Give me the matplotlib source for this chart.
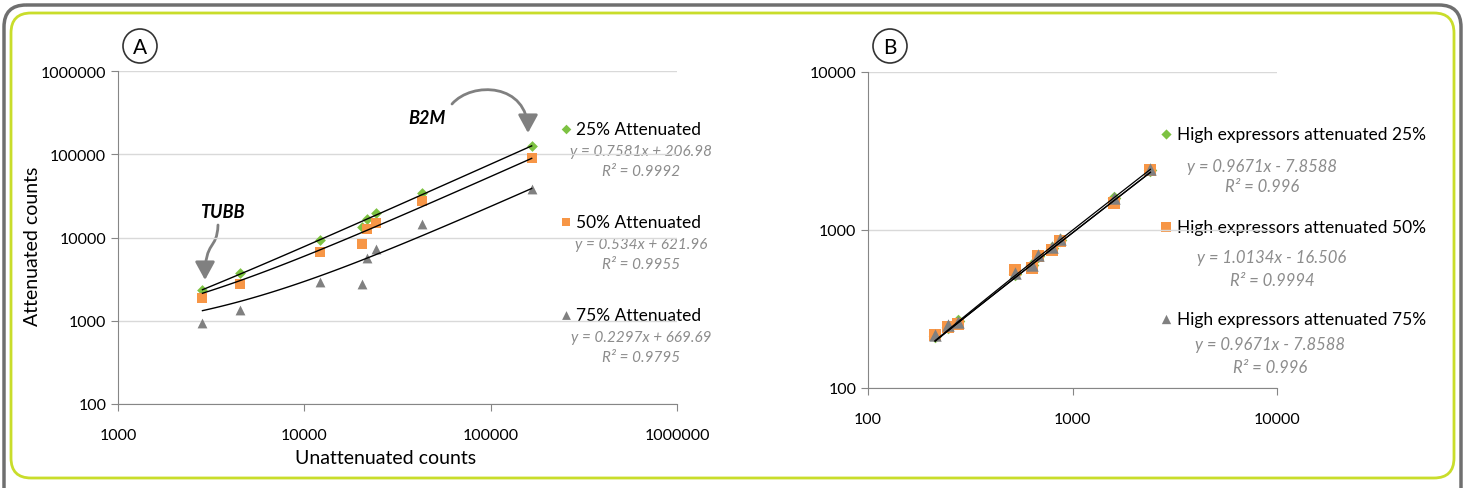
import numpy as np
import matplotlib
matplotlib.use("Agg")
import matplotlib.pyplot as plt
from matplotlib.patches import FancyBboxPatch, FancyArrowPatch, Ellipse
from matplotlib.path import Path

plt.rcParams["font.family"] = ["Lato", "DejaVu Sans"]

# Panel A: unattenuated vs attenuated counts
a_x = [2840, 4530, 12100, 20400, 21700, 24300, 43000, 166000]
a_25 = [2330, 3770, 9290, 13200, 16900, 19800, 34400, 127000]
a_50 = [1890, 2780, 6730, 8240, 12600, 15100, 27300, 90400]
a_75 = [930, 1330, 2940, 2780, 5600, 7180, 14500, 38700]
a_fits = [(0.7581, 206.98, 0.9992), (0.534, 621.96, 0.9955), (0.2297, 669.69, 0.9795)]
a_labels = ["25% Attenuated", "50% Attenuated", "75% Attenuated"]

# Panel B: high expressors
b_x = [213, 245, 277, 523, 634, 675, 798, 866, 1592, 2404]
b_25 = [212, 242, 264, 528, 598, 684, 772, 866, 1585, 2410]
b_50 = [218, 245, 255, 556, 578, 684, 743, 847, 1483, 2388]
b_75 = [215, 250, 262, 537, 597, 692, 780, 881, 1603, 2444]
b_fits = [(0.9671, -7.8588, 0.996), (1.0134, -16.506, 0.9994), (0.9671, -7.8588, 0.996)]
b_labels = ["High expressors attenuated 25%", "High expressors attenuated 50%",
            "High expressors attenuated 75%"]

GREEN, ORANGE, GREY = "#7dc242", "#f79646", "#808080"
markers = [("D", GREEN, 30), ("s", ORANGE, 48), ("^", GREY, 50)]
AXC = "#868686"
EQC = "#8c8c8c"

W, H = 1465, 489
fig = plt.figure(figsize=(W / 100, H / 100), dpi=100)

# background axes in pixel coordinates for frames and labels
bg = fig.add_axes([0, 0, 1, 1])
bg.set_xlim(0, W)
bg.set_ylim(H, 0)
bg.axis("off")
bg.add_patch(FancyBboxPatch((4, 6), W - 8, H + 20, boxstyle="round,pad=0,rounding_size=22",
                            fc="none", ec="#6f6f6f", lw=2.5))
bg.add_patch(FancyBboxPatch((11, 14), W - 22, H - 24, boxstyle="round,pad=0,rounding_size=20",
                            fc="none", ec="#c9dd2b", lw=2))
for cx, letter in [(140, "A"), (890, "B")]:
    bg.add_patch(Ellipse((cx, 47), 34, 34, fc="white", ec="#333333", lw=1.2))
    bg.text(cx, 48, letter, ha="center", va="center", fontsize=15)


def style_axes(ax):
    ax.set_facecolor("none")
    ax.set_xscale("log")
    ax.set_yscale("log")
    ax.minorticks_off()
    for s in ["top", "right"]:
        ax.spines[s].set_visible(False)
    for s in ["left", "bottom"]:
        ax.spines[s].set_color(AXC)
    ax.tick_params(axis="both", which="major", color=AXC, labelsize=11.5, length=5)
    ax.tick_params(axis="x", pad=12)
    ax.yaxis.grid(True, color="#d9d9d9", lw=1)
    ax.set_axisbelow(True)
    ax.xaxis.set_major_formatter(matplotlib.ticker.FuncFormatter(lambda v, p: f"{v:.0f}"))
    ax.yaxis.set_major_formatter(matplotlib.ticker.FuncFormatter(lambda v, p: f"{v:.0f}"))


def curved_arrow(pts):
    # cubic bezier arrow, pts = start, ctrl1, ctrl2, end (pixel coords)
    path = Path(pts, [Path.MOVETO, Path.CURVE4, Path.CURVE4, Path.CURVE4])
    bg.add_patch(FancyArrowPatch(path=path, arrowstyle="-|>,head_width=6,head_length=11",
                                 color=GREY, lw=2, mutation_scale=1))


# ---- panel A ----
axA = fig.add_axes([118 / W, 1 - 405 / H, (677 - 118) / W, (405 - 72) / H])
style_axes(axA)
axA.set_xlim(1000, 1000000)
axA.set_ylim(100, 1000000)
for ys, (m, c, s) in zip([a_25, a_50, a_75], markers):
    axA.scatter(a_x, ys, marker=m, color=c, s=s, zorder=3, lw=0)
xs = np.geomspace(min(a_x), max(a_x), 100)
for k, b, r2 in a_fits:
    axA.plot(xs, k * xs + b, color="black", lw=1, zorder=4)
# axis titles placed tight to the tick labels, as in the original
bg.text(386, 458, "Unattenuated counts", fontsize=14, ha="center", va="center")
bg.text(33, 246, "Attenuated counts", fontsize=14, ha="center", va="center", rotation=90)

# legend-like labels with equations
for i, (lab, (k, b, r2), (m, c, s)) in enumerate(zip(a_labels, a_fits, markers)):
    y0 = 130 + i * 93
    bg.scatter([566], [y0], marker=m, color=c, s=s * 0.8, lw=0)
    bg.text(576, y0, lab, fontsize=12.5, va="center", ha="left")
    sign = "+" if b >= 0 else "-"
    bg.text(641, y0 + 22, f"y = {k}x {sign} {abs(b)}", fontsize=11, style="italic",
            color=EQC, ha="center", va="center")
    bg.text(641, y0 + 42, f"R² = {r2}", fontsize=11, style="italic",
            color=EQC, ha="center", va="center")

# gene annotations
bg.text(222, 212, "TUBB", fontsize=13, weight="bold", style="italic", ha="center", va="center")
curved_arrow([(218, 226), (217, 252), (205, 240), (205, 281)])
bg.text(427, 118, "B2M", fontsize=13, weight="bold", style="italic", ha="center", va="center")
curved_arrow([(452, 105), (472, 82), (528, 84), (528, 134)])

# ---- panel B ----
axB = fig.add_axes([868 / W, 1 - 389 / H, (1277 - 868) / W, (389 - 73) / H])
style_axes(axB)
axB.set_xlim(100, 10000)
axB.set_ylim(100, 10000)
for ys, (m, c, s) in zip([b_25, b_50, b_75], markers):
    axB.scatter(b_x, ys, marker=m, color=c, s=s * 1.6, zorder=3, lw=0)
xs = np.geomspace(min(b_x), max(b_x), 50)
for k, b, r2 in b_fits:
    axB.plot(xs, k * xs + b, color="black", lw=0.9, zorder=4)

b_rows = [(135, 167, 187, 1262), (228, 258, 281, 1272), (320, 345, 368, 1270)]
for lab, (k, b, r2), (m, c, s), (ly, ey, ry, cx) in zip(b_labels, b_fits, markers, b_rows):
    bg.scatter([1166], [ly], marker=m, color=c, s=s * 0.9, lw=0)
    bg.text(1177, ly, lab, fontsize=12.5, va="center", ha="left")
    sign = "+" if b >= 0 else "-"
    bg.text(cx, ey, f"y = {k}x {sign} {abs(b)}", fontsize=12, style="italic",
            color=EQC, ha="center", va="center")
    bg.text(cx, ry, f"R² = {r2}", fontsize=12, style="italic",
            color=EQC, ha="center", va="center")

fig.savefig("out.png", dpi=100)
